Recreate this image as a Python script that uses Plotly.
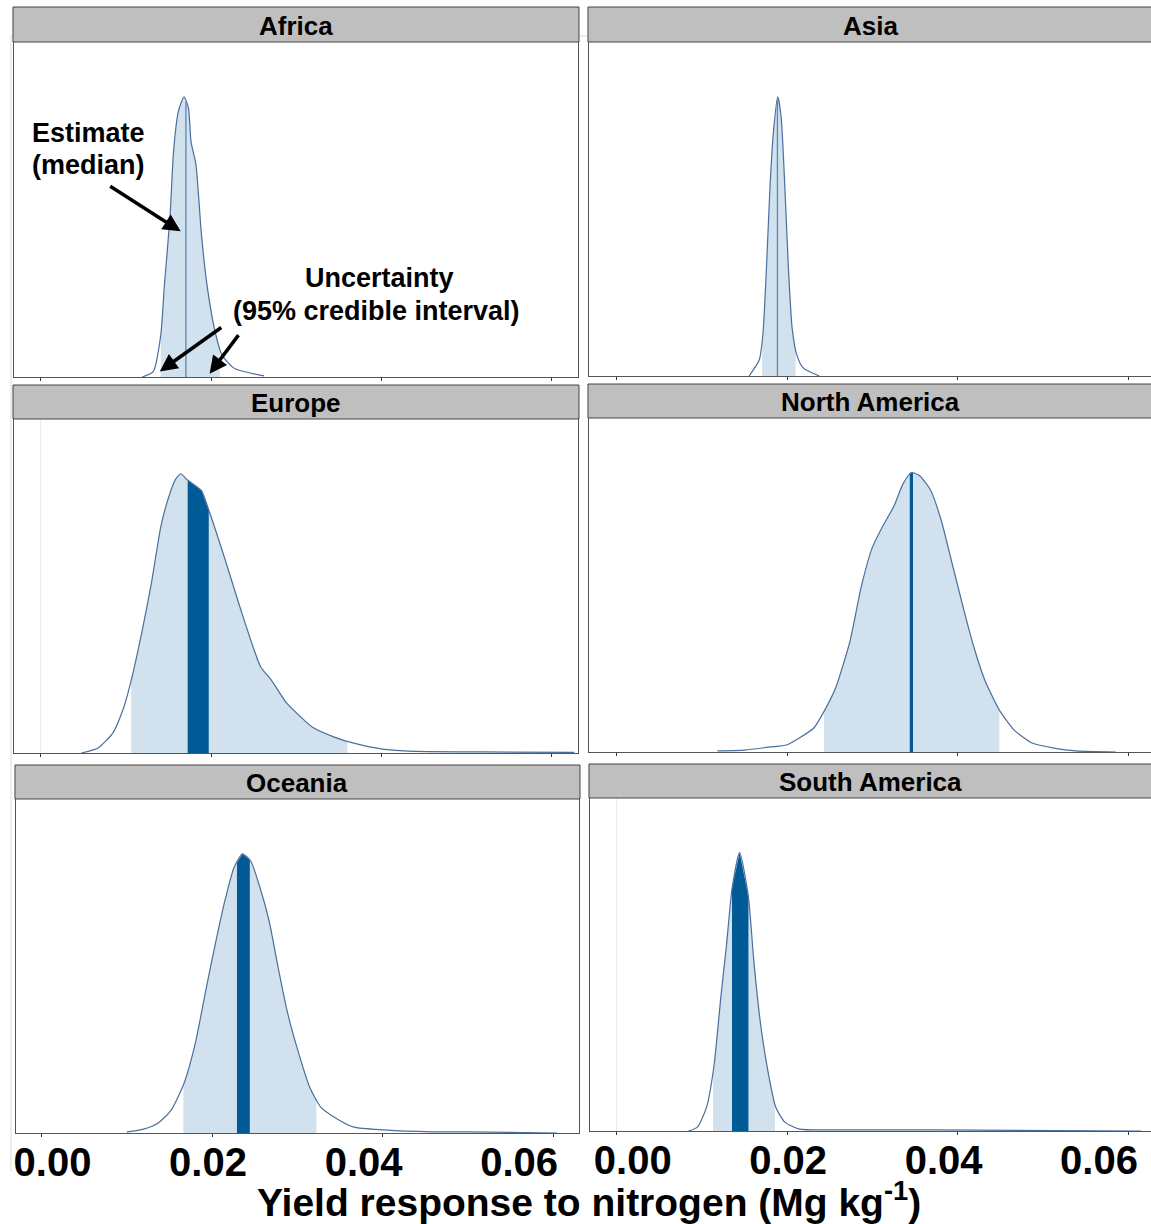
import numpy as np
import plotly.graph_objects as go

W, H = 1151, 1224

# ---------------- data (relative posterior density, peak = 1) ----------------
africa_x = [0.01192, 0.01322, 0.01409, 0.01452, 0.01517, 0.01560, 0.01617, 0.01682, 0.01734,
            0.01764, 0.01821, 0.01886, 0.01951, 0.02037, 0.02124, 0.02276, 0.02622]
africa_y = [0.0, 0.02, 0.15, 0.33, 0.57, 0.81, 0.95, 1.0, 0.96,
            0.84, 0.76, 0.51, 0.33, 0.175, 0.08, 0.03, 0.004]

asia_x = [0.01555, 0.01674, 0.01717, 0.01759, 0.01802, 0.01845, 0.01891, 0.01930, 0.01972,
          0.02015, 0.02058, 0.02109, 0.02185, 0.02377]
asia_y = [0.0, 0.057, 0.15, 0.39, 0.69, 0.89, 1.0, 0.93, 0.69,
          0.39, 0.175, 0.08, 0.03, 0.0]

europe_x = [0.00477, 0.00672, 0.00845, 0.00975, 0.01062, 0.01192, 0.01300, 0.01409, 0.01495,
            0.01582, 0.01647, 0.01712, 0.01886, 0.01972, 0.02146, 0.02362, 0.02579, 0.02709,
            0.02883, 0.03013, 0.03186, 0.03446, 0.03663, 0.04010, 0.04313, 0.05180, 0.06264]
europe_y = [0.0, 0.018, 0.071, 0.164, 0.26, 0.44, 0.61, 0.81, 0.91,
            0.98, 1.0, 0.98, 0.94, 0.87, 0.71, 0.5, 0.31, 0.26,
            0.18, 0.14, 0.093, 0.057, 0.036, 0.014, 0.007, 0.004, 0.002]

namerica_x = [0.01185, 0.01504, 0.01802, 0.01993, 0.02143, 0.02313, 0.02441, 0.02569, 0.02739,
              0.02867, 0.02995, 0.03122, 0.03250, 0.03357, 0.03455, 0.03548, 0.03676, 0.03804,
              0.03932, 0.04060, 0.04187, 0.04315, 0.04485, 0.04656, 0.04869, 0.05124, 0.05380,
              0.05848]
namerica_y = [0.004, 0.007, 0.018, 0.025, 0.05, 0.086, 0.15, 0.23, 0.4,
              0.59, 0.73, 0.81, 0.88, 0.96, 1.0, 0.99, 0.94, 0.83,
              0.675, 0.52, 0.375, 0.257, 0.15, 0.079, 0.032, 0.014, 0.004,
              0.0]

oceania_x = [0.00997, 0.01192, 0.01365, 0.01517, 0.01669, 0.01799, 0.01929, 0.02037, 0.02146,
             0.02254, 0.02354, 0.02449, 0.02558, 0.02666, 0.02774, 0.02883, 0.03013, 0.03143,
             0.03273, 0.03446, 0.03663, 0.04010, 0.04573, 0.05007, 0.06047]
oceania_y = [0.004, 0.014, 0.036, 0.082, 0.179, 0.32, 0.52, 0.68, 0.83,
             0.95, 1.0, 0.975, 0.88, 0.76, 0.59, 0.43, 0.286, 0.164,
             0.093, 0.054, 0.021, 0.011, 0.004, 0.004, 0.0]

samerica_x = [0.00844, 0.00950, 0.01057, 0.01142, 0.01227, 0.01291, 0.01355, 0.01444, 0.01547,
              0.01610, 0.01695, 0.01780, 0.01866, 0.01972, 0.02143, 0.02484, 0.03719, 0.06146]
samerica_y = [0.0, 0.014, 0.086, 0.23, 0.49, 0.67, 0.87, 1.0, 0.84,
              0.61, 0.37, 0.207, 0.086, 0.032, 0.007, 0.004, 0.004, 0.0]

regions = ["Africa", "Asia", "Europe", "North America", "Oceania", "South America"]
curves_x = [africa_x, asia_x, europe_x, namerica_x, oceania_x, samerica_x]
curves_y = [africa_y, asia_y, europe_y, namerica_y, oceania_y, samerica_y]

# 95% credible interval (outer, light) per region
ci_low = [0.01409, 0.01708, 0.01062, 0.02432, 0.01660, 0.01133]
ci_high = [0.02102, 0.02100, 0.03598, 0.04485, 0.03221, 0.01857]
# inner (dark) band per region; None where only the median line is shown
inner_low = [None, None, 0.01725, None, 0.02289, 0.01355]
inner_high = [None, None, 0.01972, None, 0.02440, 0.01547]
# median line per region (None where the dark band is shown)
medians = [0.01704, 0.01887, None, 0.03455, None, None]
median_width = [1.3, 1.3, None, 3.2, None, None]

tick_vals = [0.00, 0.02, 0.04, 0.06]
tick_text = ["0.00", "0.02", "0.04", "0.06"]

# ---------------- styling / layout geometry ----------------
LIGHT = "#d1e1ed"
DARK = "#005a96"
OUTLINE = "#4a6f9c"
MEDIAN_THIN = "#5a87b5"
FONT = "Liberation Sans, Arial, sans-serif"

# plot rectangles in pixels: x0, x1, y_top, y_bottom, strip_top, x-range
panels = [
    (12, 577, 42, 377, 7, [-0.00314, 0.06306]),
    (588, 1151, 42, 376, 7, [-0.00319, 0.06260]),
    (12, 577, 419, 753, 385, [-0.00314, 0.06306]),
    (588, 1151, 418, 752, 384, [-0.00319, 0.06260]),
    (14, 578, 799, 1133, 765, [-0.00305, 0.06304]),
    (589, 1151, 798, 1131, 764, [-0.00308, 0.06260]),
]
Y_RANGE = [0, 1.196]


def fx(p):
    return min(max(p / W, 0.0), 1.0)


def fy(p):
    return min(max(1 - p / H, 0.0), 1.0)


def band_polygon(xs, ys, lo, hi):
    xs = np.asarray(xs)
    ys = np.asarray(ys)
    inner = xs[(xs > lo) & (xs < hi)]
    bx = np.concatenate([[lo], inner, [hi]])
    by = np.interp(bx, xs, ys)
    px = np.concatenate([bx, bx[::-1]])
    py = np.concatenate([by, np.zeros_like(by)])
    return px, py


fig = go.Figure()
layout_axes = {}
shapes = []
annotations = []

# faint frame lines outside the panels (from the composed original)
shapes.append(dict(type="line", xref="paper", yref="paper", x0=fx(8), x1=fx(590), y0=fy(36), y1=fy(36),
                   line=dict(color="#dddddd", width=1)))
shapes.append(dict(type="line", xref="paper", yref="paper", x0=fx(9), x1=fx(9), y0=fy(36), y1=fy(1171),
                   line=dict(color="#dddddd", width=1)))

for i, (name, xs, ys) in enumerate(zip(regions, curves_x, curves_y)):
    n = i + 1
    xa = "x" if n == 1 else f"x{n}"
    ya = "y" if n == 1 else f"y{n}"
    x0, x1, yt, yb, st, xr = panels[i]
    clipped_right = x1 >= 1151

    # light 95% interval area
    px_, py_ = band_polygon(xs, ys, ci_low[i], ci_high[i])
    fig.add_trace(go.Scatter(x=px_, y=py_, fill="toself", fillcolor=LIGHT, mode="lines",
                             line=dict(width=0, color=LIGHT), hoverinfo="skip",
                             showlegend=False, xaxis=xa, yaxis=ya))
    # dark inner band
    if inner_low[i] is not None:
        px_, py_ = band_polygon(xs, ys, inner_low[i], inner_high[i])
        fig.add_trace(go.Scatter(x=px_, y=py_, fill="toself", fillcolor=DARK, mode="lines",
                                 line=dict(width=0, color=DARK), hoverinfo="skip",
                                 showlegend=False, xaxis=xa, yaxis=ya))
    # median line
    if medians[i] is not None:
        m = medians[i]
        hm = float(np.interp(m, xs, ys))
        col = MEDIAN_THIN if median_width[i] < 2 else DARK
        fig.add_trace(go.Scatter(x=[m, m], y=[0, hm], mode="lines",
                                 line=dict(width=median_width[i], color=col),
                                 hoverinfo="skip", showlegend=False, xaxis=xa, yaxis=ya))
    # density outline
    fig.add_trace(go.Scatter(x=xs, y=ys, mode="lines",
                             line=dict(width=1.2, color=OUTLINE, shape="spline", smoothing=0.6),
                             showlegend=False, name=name, xaxis=xa, yaxis=ya))

    zero_line = name in ("Europe", "South America")
    layout_axes["xaxis" if n == 1 else f"xaxis{n}"] = dict(
        domain=[fx(x0), fx(x1)], anchor=ya, range=xr,
        tickvals=tick_vals, showticklabels=False, ticks="outside", ticklen=3,
        tickcolor="#333333", tickwidth=1,
        showgrid=False, zeroline=zero_line, zerolinecolor="#ececec", zerolinewidth=1,
        showline=True, mirror=True, linecolor="#555555", linewidth=1,
    )
    layout_axes["yaxis" if n == 1 else f"yaxis{n}"] = dict(
        domain=[fy(yb), fy(yt)], anchor=xa, range=Y_RANGE,
        showticklabels=False, ticks="", showgrid=False, zeroline=False,
        showline=True, mirror=not clipped_right, linecolor="#555555", linewidth=1,
    )

    # strip (facet header)
    shapes.append(dict(type="rect", xref="paper", yref="paper",
                       x0=fx(x0 - 1), x1=1.003 if clipped_right else fx(x1 + 1), y0=fy(yt), y1=fy(st),
                       fillcolor="#bfbfbf", line=dict(color="#444444", width=1)))
    cx = 870 if clipped_right else (x0 + x1) / 2
    annotations.append(dict(text=f"<b>{name}</b>", xref="paper", yref="paper",
                            x=fx(cx), y=fy((st + yt) / 2 + 1), xanchor="center", yanchor="middle",
                            showarrow=False, font=dict(family=FONT, size=26, color="black")))

# tick-label axes for the bottom row (labels as placed in the original figure)
fig.add_trace(go.Scatter(x=[0.03], y=[0.5], mode="markers", marker=dict(opacity=0),
                         hoverinfo="skip", showlegend=False, xaxis="x7", yaxis="y5"))
fig.add_trace(go.Scatter(x=[0.03], y=[0.5], mode="markers", marker=dict(opacity=0),
                         hoverinfo="skip", showlegend=False, xaxis="x8", yaxis="y6"))
label_axis = dict(tickvals=tick_vals, ticktext=[f"<b>{t}</b>" for t in tick_text],
                  ticks="", showline=False, showgrid=False, zeroline=False, side="bottom",
                  tickfont=dict(family=FONT, size=40, color="black"), ticklabelstandoff=2)
layout_axes["xaxis7"] = dict(label_axis, overlaying="x5", anchor="y5",
                             range=[-0.00469, 0.0677])
layout_axes["xaxis8"] = dict(label_axis, overlaying="x6", anchor="y6",
                             range=[-0.00551, 0.0667])

# axis title
annotations.append(dict(text="<b>Yield response to nitrogen (Mg kg<sup>-1</sup>)</b>",
                        xref="paper", yref="paper", x=fx(588), y=fy(1199),
                        xanchor="center", yanchor="middle", showarrow=False,
                        font=dict(family=FONT, size=39, color="black")))

# explanatory labels in the Africa panel
lab_font = dict(family=FONT, size=27, color="black")
annotations += [
    dict(text="<b>Estimate</b>", xref="paper", yref="paper", x=fx(28), y=fy(133),
         xanchor="left", yanchor="middle", showarrow=False, font=lab_font),
    dict(text="<b>(median)</b>", xref="paper", yref="paper", x=fx(28), y=fy(165),
         xanchor="left", yanchor="middle", showarrow=False, font=lab_font),
    dict(text="<b>Uncertainty</b>", xref="paper", yref="paper", x=fx(378), y=fy(278),
         xanchor="center", yanchor="middle", showarrow=False, font=lab_font),
    dict(text="<b>(95% credible interval)</b>", xref="paper", yref="paper", x=fx(375), y=fy(311),
         xanchor="center", yanchor="middle", showarrow=False, font=lab_font),
]
arrow = dict(xref="x", yref="y", text="", showarrow=True, arrowhead=2, arrowsize=1.0,
             arrowwidth=3.5, arrowcolor="black", standoff=0, startstandoff=0)
annotations += [
    dict(arrow, x=0.01643, y=0.52, ax=-72, ay=-46),
    dict(arrow, x=0.01397, y=0.02, ax=63, ay=-45),
    dict(arrow, x=0.01982, y=0.012, ax=30, ay=-40),
]

fig.update_layout(
    width=W, height=H,
    margin=dict(l=0, r=0, t=0, b=0),
    paper_bgcolor="white", plot_bgcolor="white",
    showlegend=False,
    shapes=shapes, annotations=annotations,
    font=dict(family=FONT),
    **layout_axes,
)

fig.write_html(
    "out.html",
    config={"displayModeBar": False},
    post_script="document.body.style.margin='0px'; document.body.style.overflow='hidden';",
)
